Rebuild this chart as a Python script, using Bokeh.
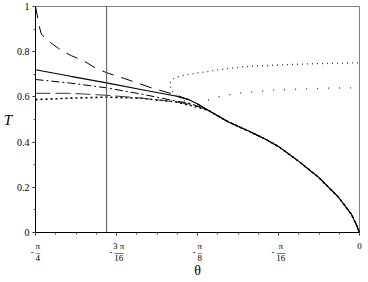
import numpy as np
from bokeh.plotting import figure
from bokeh.models import FixedTicker, Range1d, Span
from bokeh.embed import file_html
from bokeh.resources import INLINE

PI = np.pi

# ---- data (theta in radians, T) ----
theta_dash = [-0.7854, -0.7837, -0.7798, -0.776, -0.771, -0.758, -0.745, -0.730, -0.717, -0.698,
              -0.669, -0.640, -0.613, -0.553, -0.504, -0.446, -0.414, -0.390, -0.366]
T_dash = [1.0, 0.985, 0.947, 0.91, 0.877, 0.855, 0.835, 0.815, 0.80, 0.782,
          0.76, 0.728, 0.707, 0.671, 0.640, 0.609, 0.588, 0.566, 0.540]

theta_solid = [-0.7854, -0.70, -0.613, -0.53, -0.446, -0.414, -0.390, -0.366]
T_solid = [0.72, 0.691, 0.662, 0.633, 0.604, 0.588, 0.566, 0.540]

theta_dashdot = [-0.7854, -0.70, -0.613, -0.53, -0.446, -0.414, -0.390, -0.366]
T_dashdot = [0.677, 0.661, 0.640, 0.613, 0.582, 0.572, 0.558, 0.540]

theta_longdash = [-0.7854, -0.708, -0.66, -0.613, -0.53, -0.446, -0.414, -0.390, -0.366]
T_longdash = [0.616, 0.616, 0.612, 0.607, 0.595, 0.578, 0.568, 0.556, 0.540]

theta_dot = [-0.7854, -0.708, -0.613, -0.53, -0.446, -0.414, -0.390, -0.366]
T_dot = [0.588, 0.594, 0.599, 0.594, 0.578, 0.564, 0.553, 0.540]

# common branch shared by all curves
theta_common = [-0.366, -0.3175, -0.269, -0.228, -0.196, -0.148, -0.099, -0.051, -0.0194, -0.0085, 0.0]
T_common = [0.540, 0.489, 0.449, 0.413, 0.380, 0.316, 0.244, 0.156, 0.080, 0.038, 0.0]

# upper dotted branch (turns back on itself)
theta_upper = [-0.390, -0.407, -0.422, -0.434, -0.446, -0.455, -0.459, -0.458, -0.452, -0.443,
               -0.431, -0.407, -0.373, -0.347, -0.317, -0.269, -0.187, -0.107, 0.0]
T_upper = [0.557, 0.569, 0.578, 0.596, 0.609, 0.627, 0.649, 0.667, 0.679, 0.687,
           0.693, 0.702, 0.711, 0.718, 0.726, 0.735, 0.742, 0.747, 0.751]

# lower sparse dotted branch
theta_sparse = [-0.390, -0.372, -0.354, -0.325, -0.298, -0.269, -0.237, -0.208, -0.121, -0.065, 0.0]
T_sparse = [0.562, 0.582, 0.596, 0.607, 0.615, 0.621, 0.626, 0.630, 0.636, 0.639, 0.641]

theta_asymptote = -0.613

x_ticks = [-PI / 4, -3 * PI / 16, -PI / 8, -PI / 16, 0.0]
x_tick_sign = ["-", "-", "-", "-", ""]
x_tick_num = ["π", "3 π", "π", "π", "0"]
x_tick_den = ["4", "16", "8", "16", ""]
x_minor = [k * PI / 64 for k in range(-16, 1)]

y_ticks = [0, 0.2, 0.4, 0.6, 0.8, 1]
y_tick_labels = ["0", "0.2", "0.4", "0.6", "0.8", "1"]
y_minor = [0, 0.1, 0.2, 0.3, 0.4, 0.5, 0.6, 0.7, 0.8, 0.9, 1]

SERIF = "Liberation Serif"

# stacked-fraction tick labels: numerator / bar / denominator, minus sign beside the bar
PAD = "\u2002"
x_labels = {}
for t, s, n, d in zip(x_ticks, x_tick_sign, x_tick_num, x_tick_den):
    if d:
        bar = "\u2013" if len(d) == 1 else "\u2014"
        x_labels[t] = PAD + n + "\n" + s + "\u2009" + bar + "\n" + PAD + d
    else:
        x_labels[t] = n

p = figure(frame_width=324, frame_height=226, x_range=Range1d(-PI / 4, 0), y_range=Range1d(0, 1),
           output_backend="svg", toolbar_location=None,
           min_border_left=30, min_border_right=5, min_border_top=6, min_border_bottom=36)
p.grid.visible = False
p.outline_line_color = "#808080"
p.background_fill_color = "white"
p.border_fill_color = "white"

p.xaxis.ticker = FixedTicker(ticks=x_ticks, minor_ticks=x_minor)
p.xaxis.major_label_overrides = x_labels
p.xaxis.major_label_text_font = SERIF
p.xaxis.major_label_text_font_size = "9px"
p.xaxis.major_label_text_color = "black"
p.xaxis.major_label_text_line_height = 0.62
p.xaxis.major_label_standoff = 5
p.xaxis.axis_label = "θ"
p.xaxis.axis_label_text_font = SERIF
p.xaxis.axis_label_text_font_style = "normal"
p.xaxis.axis_label_text_font_size = "14px"
p.xaxis.axis_label_text_color = "black"
p.xaxis.axis_label_text_line_height = 1.0
p.xaxis.axis_label_standoff = -3

p.yaxis.ticker = FixedTicker(ticks=y_ticks, minor_ticks=y_minor)
p.yaxis.major_label_overrides = dict(zip(y_ticks, y_tick_labels))
p.yaxis.major_label_text_font = SERIF
p.yaxis.major_label_text_font_size = "10px"
p.yaxis.major_label_text_color = "black"
p.yaxis.major_label_standoff = 3
p.yaxis.axis_label = "T"
p.yaxis.axis_label_orientation = "horizontal"
p.yaxis.axis_label_text_font = SERIF
p.yaxis.axis_label_text_font_style = "italic"
p.yaxis.axis_label_text_font_size = "15px"
p.yaxis.axis_label_text_color = "black"
p.yaxis.axis_label_standoff = 2

for ax in (p.xaxis, p.yaxis):
    ax.axis_line_color = "black"
    ax.major_tick_line_color = "black"
    ax.minor_tick_line_color = "#555555"
    ax.major_tick_in = 0
    ax.major_tick_out = 3
    ax.minor_tick_in = 0
    ax.minor_tick_out = 2

# vertical asymptote
p.add_layout(Span(location=theta_asymptote, dimension="height", line_color="#555555", line_width=1))

# curves
p.line(theta_upper, T_upper, line_color="#333333", line_width=1.3, line_dash="1 4")
p.line(theta_sparse, T_sparse, line_color="#333333", line_width=1.3, line_dash="1 10")
p.line(theta_dot + theta_common[1:], T_dot + T_common[1:], line_color="black", line_width=1.6, line_dash="2 3")
p.line(theta_longdash + theta_common[1:], T_longdash + T_common[1:], line_color="#333333", line_width=1, line_dash="15 5")
p.line(theta_dashdot + theta_common[1:], T_dashdot + T_common[1:], line_color="black", line_width=1, line_dash="8 3 2 3")
p.line(theta_dash + theta_common[1:], T_dash + T_common[1:], line_color="black", line_width=1, line_dash="12 8")
p.line(theta_solid + theta_common[1:], T_solid + T_common[1:], line_color="black", line_width=1.1)

open("out.html", "w").write(file_html(p, INLINE))
